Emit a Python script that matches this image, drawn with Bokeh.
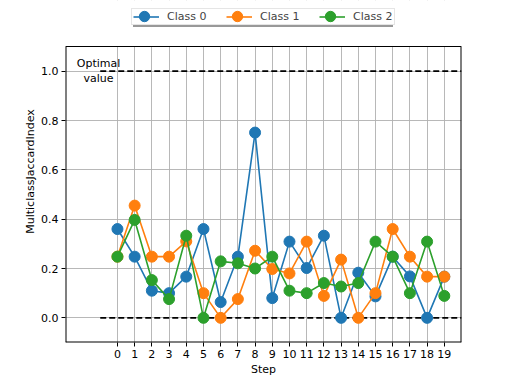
from bokeh.plotting import figure
from bokeh.models import Range1d, FixedTicker, PrintfTickFormatter, Legend, LegendItem
from bokeh.core.properties import value
from bokeh.embed import file_html
from bokeh.resources import INLINE

steps = list(range(20))
class0 = [0.36, 0.248, 0.11, 0.10, 0.167, 0.36, 0.064, 0.248, 0.751, 0.08,
          0.309, 0.202, 0.333, 0.0, 0.183, 0.087, 0.248, 0.168, 0.0, 0.167]
class1 = [0.248, 0.455, 0.248, 0.248, 0.31, 0.10, 0.0, 0.076, 0.272, 0.198,
          0.18, 0.309, 0.089, 0.236, 0.0, 0.10, 0.36, 0.248, 0.167, 0.167]
class2 = [0.248, 0.397, 0.153, 0.076, 0.333, 0.0, 0.229, 0.221, 0.2, 0.248,
          0.11, 0.10, 0.141, 0.127, 0.141, 0.309, 0.248, 0.10, 0.309, 0.089]
series_names = ["Class 0", "Class 1", "Class 2"]
colors = ["#1f77b4", "#ff7f0e", "#2ca02c"]
ref_x = [-1, 20]
optimal_y = [1.0, 1.0]
zero_y = [0.0, 0.0]
ref_text = ["Optimal\nvalue"]
y_ticks = [0.0, 0.2, 0.4, 0.6, 0.8, 1.0]

# axes box (data limits) and the extra headroom that hosts the legend
x_lo, x_hi = -3.02, 20.0
y_lo, y_hi = -0.1, 1.1
y_top = 1.1 + 46 * 1.2 / 296

FONT = "DejaVu Sans"

p = figure(output_backend="svg", toolbar_location=None,
           x_range=Range1d(x_lo, x_hi), y_range=Range1d(y_lo, y_top),
           frame_width=396, frame_height=342,
           min_border_left=65, min_border_top=0, min_border_right=35, min_border_bottom=34)

p.background_fill_color = "white"
p.border_fill_color = "white"
p.outline_line_color = None

p.xaxis.ticker = FixedTicker(ticks=steps)
p.yaxis.ticker = FixedTicker(ticks=y_ticks)
p.yaxis.formatter = PrintfTickFormatter(format="%.1f")
p.yaxis.bounds = (y_lo, y_hi)
for ax in (p.xaxis[0], p.yaxis[0]):
    ax.axis_line_color = None
    ax.major_tick_in = 0
    ax.major_tick_out = 4
    ax.minor_tick_line_color = None
    ax.major_tick_line_color = "black"
    ax.major_label_text_font = FONT
    ax.major_label_text_font_size = "11px"
    ax.major_label_text_color = "black"
    ax.axis_label_text_font = FONT
    ax.axis_label_text_font_size = "11px"
    ax.axis_label_text_font_style = "normal"
    ax.axis_label_text_color = "black"
    ax.major_label_standoff = 3
p.xaxis.axis_label = "Step"
p.yaxis.axis_label = "MulticlassJaccardIndex"
p.xaxis.axis_label_standoff = 2
p.yaxis.axis_label_standoff = 1

p.grid.grid_line_color = "#b0b0b0"
p.grid.grid_line_width = 0.9

# white headroom above the axes box (hides grid lines there)
p.quad(left=[x_lo], right=[x_hi], bottom=[y_hi], top=[y_top],
       fill_color="white", line_color=None)
# axes box
p.segment(x0=[x_lo, x_lo, x_hi, x_lo], y0=[y_hi, y_lo, y_lo, y_lo],
          x1=[x_hi, x_lo, x_hi, x_hi], y1=[y_hi, y_hi, y_hi, y_lo],
          line_color="black", line_width=[1, 2, 2, 2])

p.line(ref_x, optimal_y, line_color="black", line_width=1.6, line_dash="6 3")
p.line(ref_x, zero_y, line_color="black", line_width=1.6, line_dash="6 3")
p.text(x=[-1.1], y=[1.0], text=ref_text, text_align="center", text_baseline="middle",
       text_font=value(FONT), text_font_size="11px", text_color="black")

line_items, marker_items, shadow_items = [], [], []
for name, vals, c in zip(series_names, [class0, class1, class2], colors):
    l = p.line(steps, vals, line_color=c, line_width=1.6)
    s = p.scatter(steps, vals, size=11, fill_color=c, line_color=c, marker="circle")
    line_items.append(LegendItem(label=name, renderers=[l]))
    marker_items.append(LegendItem(label=" ", renderers=[s]))
    dl = p.line([], [], line_alpha=0)
    shadow_items.append(LegendItem(label=" ", renderers=[dl]))


def make_legend(its, loc, gh):
    lg = Legend(items=its, orientation="horizontal", location=loc)
    lg.label_text_font = FONT
    lg.label_text_font_size = "11px"
    lg.label_height = 11
    lg.label_width = 40
    lg.glyph_width = 26
    lg.glyph_height = gh
    lg.label_standoff = 8
    lg.spacing = 19
    lg.padding = 1
    lg.margin = 0
    return lg


shadow = make_legend(shadow_items, (68, 315), 11)
shadow.label_text_alpha = 0
shadow.border_line_color = None
shadow.background_fill_color = "#999999"
shadow.background_fill_alpha = 1
p.add_layout(shadow)

main = make_legend(line_items, (66, 317), 11)
main.border_line_color = "#cccccc"
main.border_line_width = 1
main.background_fill_color = "white"
main.background_fill_alpha = 1
p.add_layout(main)

marks = make_legend(marker_items, (66, 313), 26)
marks.label_text_alpha = 0
marks.border_line_color = None
marks.background_fill_alpha = 0
p.add_layout(marks)

open("out.html", "w").write(file_html(p, INLINE))
